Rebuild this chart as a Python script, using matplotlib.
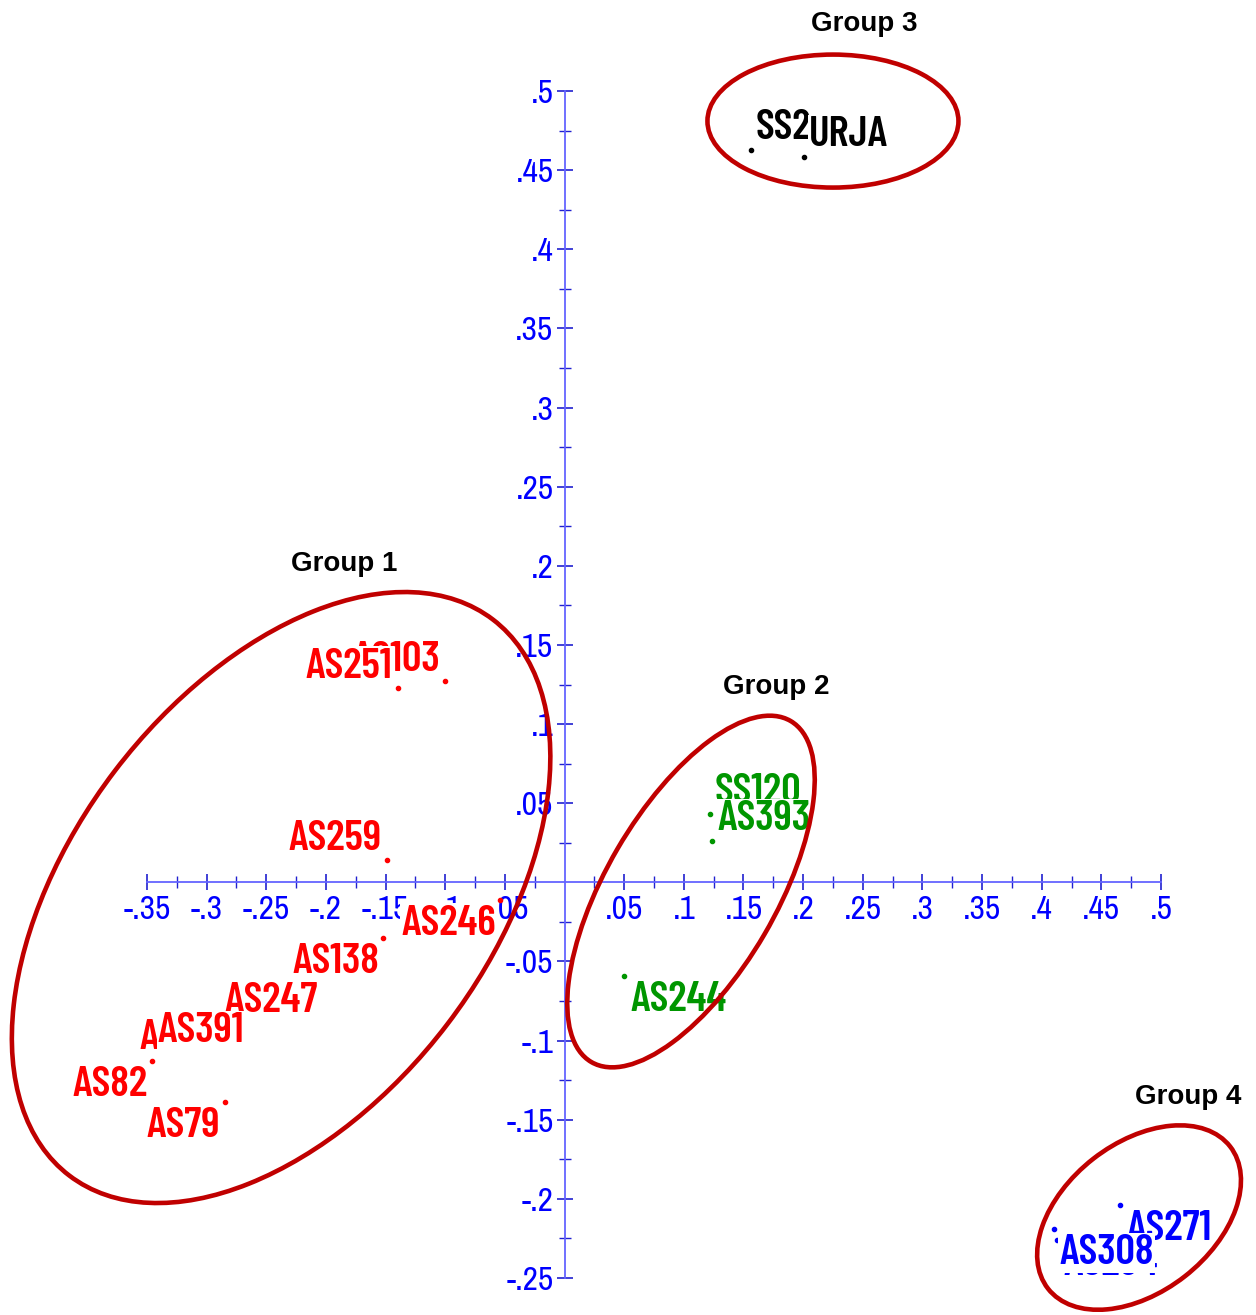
import matplotlib
matplotlib.use("Agg")
from matplotlib import pyplot as plt
from matplotlib import transforms as mtransforms
from matplotlib.patches import Ellipse
from matplotlib.ticker import FixedLocator, FuncFormatter
import numpy as np

# group 1 (red)
g1_names = ["AS103", "AS251", "AS259", "AS246", "AS138", "AS247", "AS175", "AS391", "AS82", "AS79"]
g1_x = [-0.100, -0.140, -0.149, -0.054, -0.152, -0.203, -0.281, -0.265, -0.346, -0.285]
g1_y = [0.127, 0.123, 0.014, -0.011, -0.035, -0.060, -0.083, -0.079, -0.113, -0.139]

# group 2 (green)
g2_names = ["SS120", "AS393", "AS244"]
g2_x = [0.122, 0.124, 0.050]
g2_y = [0.043, 0.026, -0.059]

# group 3 (black)
g3_names = ["SS2", "URJA"]
g3_x = [0.156, 0.201]
g3_y = [0.463, 0.458]

# group 4 (blue)
g4_names = ["AS294", "AS271", "AS308"]
g4_x = [0.413, 0.466, 0.410]
g4_y = [-0.226, -0.204, -0.219]

# where each label sits: upper/lower, left/right of its point
label_place = {
    "AS103": "ul", "AS251": "ul", "AS259": "ul",
    "SS120": "ur", "AS393": "ur", "SS2": "ur", "URJA": "ur",
}

x_ticks = [-0.35, -0.3, -0.25, -0.2, -0.15, -0.1, -0.05, 0.05, 0.1, 0.15, 0.2, 0.25, 0.3, 0.35, 0.4, 0.45, 0.5]
y_ticks = [-0.25, -0.2, -0.15, -0.1, -0.05, 0.05, 0.1, 0.15, 0.2, 0.25, 0.3, 0.35, 0.4, 0.45, 0.5]

fig = plt.figure(figsize=(12.56, 13.15), dpi=100)
ax = fig.add_axes([0, 0, 1, 1])
ax.set_xlim(-0.47323, 0.57963)
ax.set_ylim(-0.27337, 0.5575)
ax.patch.set_visible(False)

axis_col = "#6464ff"
tick_col = "#2020d0"
for side in ["top", "right"]:
    ax.spines[side].set_visible(False)
ax.spines["left"].set_position(("data", 0))
ax.spines["bottom"].set_position(("data", 0))
ax.spines["bottom"].set_bounds(-0.35, 0.5)
ax.spines["left"].set_bounds(-0.25, 0.5)
for side in ["left", "bottom"]:
    ax.spines[side].set_color(axis_col)
    ax.spines[side].set_linewidth(1.3)


def fmt(v, pos=None):
    s = f"{v:g}"
    return s.replace("0.", ".")


ax.xaxis.set_major_locator(FixedLocator(x_ticks))
ax.yaxis.set_major_locator(FixedLocator(y_ticks))
ax.xaxis.set_minor_locator(FixedLocator(np.arange(-0.325, 0.5, 0.05)))
ax.yaxis.set_minor_locator(FixedLocator(np.arange(-0.225, 0.5, 0.05)))
ax.xaxis.set_major_formatter(FuncFormatter(fmt))
ax.yaxis.set_major_formatter(FuncFormatter(fmt))

tick_font = ["Archivo Narrow", "Liberation Sans", "DejaVu Sans"]
ax.tick_params(which="major", direction="inout", length=12, width=1.2, color=tick_col,
               labelcolor="#0000ff", labelsize=24)
ax.tick_params(which="minor", direction="inout", length=8, width=1.0, color=tick_col)
ax.tick_params(axis="x", pad=3)
ax.tick_params(axis="y", pad=2)
for lab in ax.get_xticklabels() + ax.get_yticklabels():
    lab.set_family(tick_font)

label_font = ["Barlow Condensed", "Archivo Narrow", "DejaVu Sans"]
offsets = {"ul": (-5, 10, "right"), "ll": (-4, -35, "right"),
           "ur": (5, 11, "left"), "lr": (6, -35, "left")}


def draw_group(names, xs, ys, color, default_place):
    ax.plot(xs, ys, linestyle="none", marker="o", markersize=3, color=color, zorder=2)
    for name, x, y in zip(names, xs, ys):
        dx, dy, ha = offsets[label_place.get(name, default_place)]
        ax.annotate(name, (x, y), xytext=(dx, dy), textcoords="offset pixels",
                    ha=ha, va="baseline", color=color, fontsize=31, fontweight="semibold",
                    family=label_font, zorder=3,
                    bbox=dict(boxstyle="square,pad=0.03", fc="white", ec="none"))


draw_group(g1_names, g1_x, g1_y, "#ff0000", "ll")
draw_group(g2_names, g2_x, g2_y, "#009600", "lr")
draw_group(g3_names, g3_x, g3_y, "black", "ur")
draw_group(g4_names, g4_x, g4_y, "#0000ff", "lr")

# group outlines: centre in data units, size in pixels
ellipses = [
    ((-0.2376, -0.0096), 699, 418, 52.7),
    ((0.106, -0.0058), 395, 170, 59.7),
    ((0.225, 0.481), 251, 133, 0),
    ((0.4816, -0.2118), 231, 149, 38),
]
for (cx, cy), w, h, ang in ellipses:
    tr = mtransforms.IdentityTransform() + mtransforms.ScaledTranslation(cx, cy, ax.transData)
    ax.add_patch(Ellipse((0, 0), w, h, angle=ang, transform=tr, fill=False,
                         edgecolor="#c00000", linewidth=3.3, zorder=5, clip_on=False))

group_titles = ["Group 1", "Group 2", "Group 3", "Group 4"]
title_x = [-0.1848, 0.1772, 0.2509, 0.5226]
title_y = [0.1967, 0.1189, 0.5379, -0.1401]
for t, x, y in zip(group_titles, title_x, title_y):
    ax.text(x, y, t, ha="center", va="baseline", fontsize=20, fontweight="bold",
            family=["Liberation Sans", "DejaVu Sans"], color="black", clip_on=False)

fig.savefig("out.png", dpi=100)
